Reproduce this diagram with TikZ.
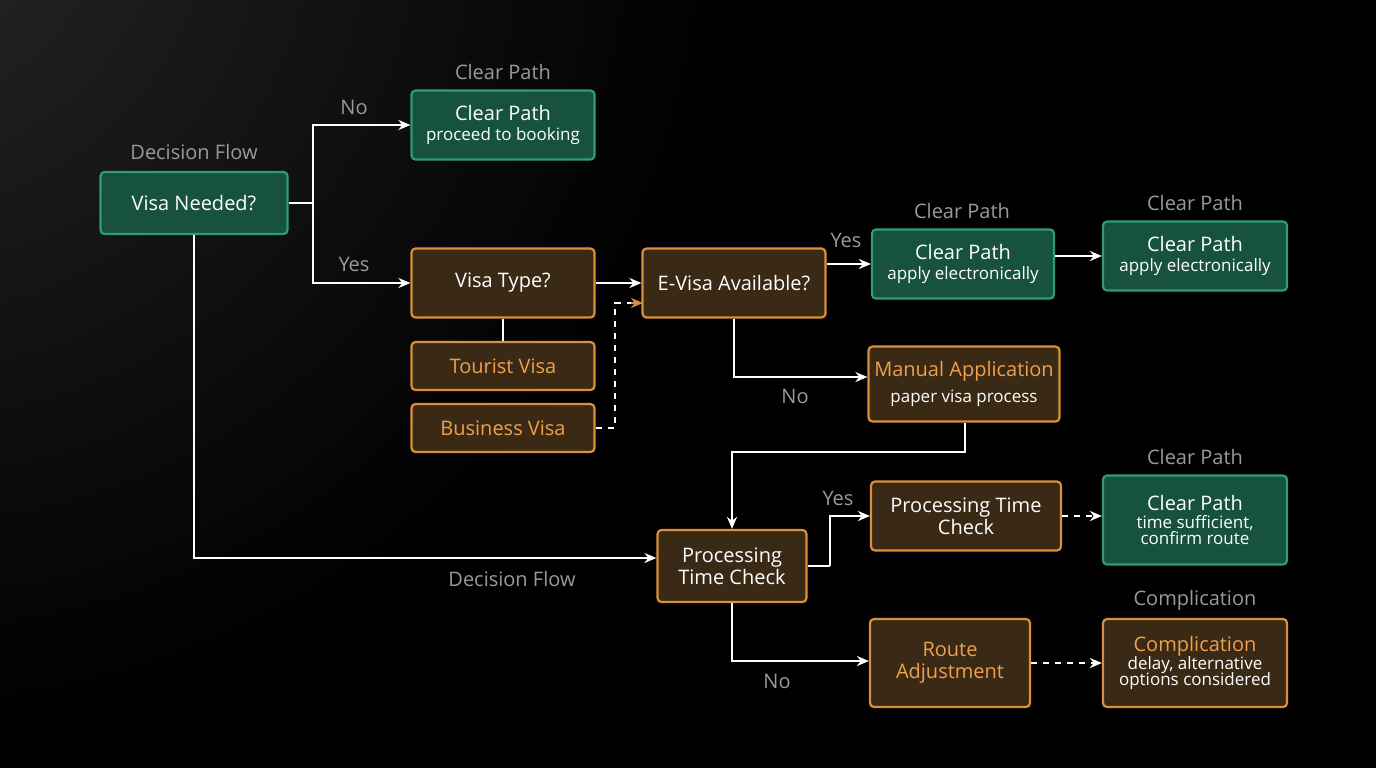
\documentclass[tikz,border=0pt]{standalone}
\usepackage{fontspec}
\setmainfont{Open Sans}
\usetikzlibrary{arrows.meta}
\definecolor{gfill}{HTML}{17513F}
\definecolor{gdraw}{HTML}{2E9E72}
\definecolor{ofill}{HTML}{3A2A15}
\definecolor{odraw}{HTML}{DB8E3C}
\definecolor{otext}{HTML}{EFA04A}
\definecolor{lab}{HTML}{9A9A9A}
\newcommand\smt{\fontsize{8.5}{10}\selectfont}
\begin{document}
\begin{tikzpicture}[x=0.5pt,y=-0.5pt,
 box/.style={rounded corners=2pt,line width=1.1pt,align=center,text=white,font=\fontsize{10}{11}\selectfont,inner sep=0pt},
 gb/.style={box,fill=gfill,draw=gdraw},
 ob/.style={box,fill=ofill,draw=odraw},
 lb/.style={text=lab,font=\fontsize{10}{11}\selectfont},
 ar/.style={draw=white,line width=1pt,-{Stealth[length=6pt,width=5pt]}},
 ln/.style={draw=white,line width=1pt},
 da/.style={draw=white,line width=1pt,dashed,-{Stealth[length=6pt,width=5pt]}}]
\useasboundingbox (0,0) rectangle (1376,768);
\begin{scope}
\clip (0,0) rectangle (1376,768);
\fill[black] (0,0) rectangle (1376,768);
\shade[inner color=black!78!white,outer color=black,opacity=0.7] (-100,-100) circle[radius=420pt];
\end{scope}
% nodes
\node[gb,minimum width=93.5pt,minimum height=31pt] (vn) at (194,203) {Visa Needed?};
\node[lb] (t1) at (194,152) {Decision Flow};
\node[gb,minimum width=91.5pt,minimum height=34.5pt] (cp1) at (503,125) {Clear Path\\[-1pt]{\smt proceed to booking}};
\node[lb] (t2) at (503,72) {Clear Path};
\node[ob,minimum width=91.5pt,minimum height=34.5pt] (vt) at (503,283) {Visa Type?};
\node[ob,minimum width=91.5pt,minimum height=24pt,text=otext] (tv) at (503,366) {Tourist Visa};
\node[ob,minimum width=91.5pt,minimum height=24pt,text=otext] (bv) at (503,428) {Business Visa};
\node[ob,minimum width=91.5pt,minimum height=34.5pt] (ev) at (734,283) {E-Visa Available?};
\node[gb,minimum width=91pt,minimum height=34.5pt] (cp2) at (963,264) {Clear Path\\[-1pt]{\smt apply electronically}};
\node[lb] (t3) at (962,211) {Clear Path};
\node[gb,minimum width=92pt,minimum height=34.5pt] (cp3) at (1195,256) {Clear Path\\[-1pt]{\smt apply electronically}};
\node[lb] (t4) at (1195,203) {Clear Path};
\node[ob,minimum width=95.5pt,minimum height=37.5pt] (ma) at (964,384) {{\color{otext}Manual Application}\\[2pt]{\smt paper visa process}};
\node[ob,minimum width=74.5pt,minimum height=36pt] (pl) at (732,566) {Processing\\Time Check};
\node[ob,minimum width=95pt,minimum height=34.5pt] (pu) at (966,516) {Processing Time\\Check};
\node[gb,minimum width=92pt,minimum height=44.5pt] (cp4) at (1195,520) {Clear Path\\[-2pt]{\smt time sufficient,}\\[-3pt]{\smt confirm route}};
\node[lb] (t5) at (1195,457) {Clear Path};
\node[ob,minimum width=80pt,minimum height=44pt,text=otext] (ra) at (950,663) {Route\\Adjustment};
\node[ob,minimum width=92pt,minimum height=44pt] (co) at (1195,663) {{\color{otext}Complication}\\[-2pt]{\smt delay, alternative}\\[-3pt]{\smt options considered}};
\node[lb] (t6) at (1195,600) {Complication};
% labels
\node[lb] (l1) at (354,107) {No};
\node[lb] (l2) at (354,264) {Yes};
\node[lb] (l3) at (846,240) {Yes};
\node[lb] (l4) at (795,396) {No};
\node[lb] (l5) at (512,579) {Decision Flow};
\node[lb] (l6) at (838,498) {Yes};
\node[lb] (l7) at (777,681) {No};
% connectors
\coordinate (j1) at (313,203);
\draw[ln] (vn.east) -- (j1);
\draw[ar] (j1) |- (cp1.west);
\draw[ar] (j1) |- (vt.west);
\draw[ar] (vt.east) -- (ev.west);
\draw[ln] (vt.south) -- (tv.north);
\coordinate (b1) at (615,428);
\coordinate (b2) at (643,303);
\draw[draw=white,line width=1pt,dashed] (bv.east) -- (b1) |- ([xshift=-5pt]b2);
\draw[draw=odraw,line width=1pt,-{Stealth[length=6pt,width=5pt]}] ([xshift=-6pt]b2) -- (b2);
\draw[ar] (ev.east|-cp2.west) -- (cp2.west);
\draw[ar] (ev.south) |- (ma.west|-0,377);
\draw[ar] (cp2.east|-cp3.west) -- (cp3.west);
\coordinate (m1) at (965,452);
\draw[ar] (ma.south-|m1) -- (m1) -| (pl.north);
\draw[ar] (vn.south) |- (pl.west|-0,558);
\coordinate (p1) at (830,566);
\draw[ln] (pl.east) -- (p1);
\draw[ar] (p1) |- (pu.west);
\draw[da] (pu.east) -- (cp4.west|-pu.east);
\draw[ar] (pl.south) |- (ra.west|-0,661);
\draw[da] (ra.east) -- (co.west);
\end{tikzpicture}
\end{document}
